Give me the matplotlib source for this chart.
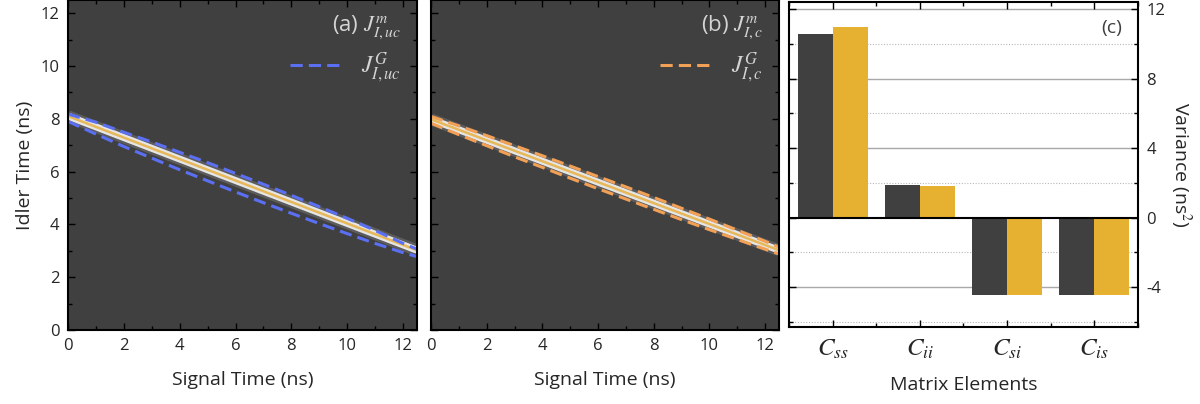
import numpy as np
import matplotlib
matplotlib.use('Agg')
import matplotlib.pyplot as plt
from matplotlib.lines import Line2D
from matplotlib.ticker import MultipleLocator

plt.rcParams['font.family'] = ['Open Sans', 'DejaVu Sans']
plt.rcParams['mathtext.fontset'] = 'stix'

# data
# measured streak (centre line) for panels a and b
streak_x = [0, 12.5]
streak_a = [8.10, 3.02]
streak_b = [7.98, 3.02]

# gaussian contour (dashed), two sides
gauss_x = [0, 1, 2, 3, 4, 5, 6, 7, 8, 9, 10, 11, 12, 12.5]
gauss_a_upper = [8.18, 7.87, 7.49, 7.12, 6.73, 6.34, 5.93, 5.52, 5.10, 4.67, 4.23, 3.77, 3.28, 3.06]
gauss_a_lower = [7.90, 7.42, 6.95, 6.51, 6.07, 5.65, 5.23, 4.82, 4.42, 4.03, 3.65, 3.28, 2.93, 2.78]
gauss_b_upper = [8.09, 7.73, 7.36, 6.98, 6.60, 6.21, 5.81, 5.42, 5.02, 4.61, 4.20, 3.78, 3.36, 3.14]
gauss_b_lower = [7.83, 7.40, 6.98, 6.56, 6.16, 5.75, 5.35, 4.96, 4.57, 4.18, 3.80, 3.43, 3.06, 2.88]

# panel c
categories = ['$C_{ss}$', '$C_{ii}$', '$C_{si}$', '$C_{is}$']
var_measured = [10.58, 1.88, -4.45, -4.45]
var_gauss = [11.0, 1.82, -4.47, -4.47]

dark = '#404040'
gold = '#E6B030'
blue = '#5B6FF2'
orange = '#F2A055'
txt = '#262626'

fig = plt.figure(figsize=(12, 4.04), dpi=100)
ax1 = fig.add_axes([0.0567, 0.1832, 0.2908, 0.8168])
ax2 = fig.add_axes([0.3592, 0.1832, 0.2900, 0.8168])
ax3 = fig.add_axes([0.6575, 0.1906, 0.2908, 0.8045])


def heat_panel(ax, sy, gu, gl, col, tag, sub):
    ax.set_facecolor(dark)
    ax.plot(streak_x, sy, color='#e0e0e0', lw=8.5, alpha=0.18, solid_capstyle='butt')
    ax.plot(streak_x, sy, color='#f6f6f6', lw=5, alpha=0.9, solid_capstyle='butt')
    ax.plot(streak_x, sy, color='#E8B040', lw=1.8, alpha=0.85, solid_capstyle='butt')
    ax.plot(gauss_x, gu, color=col, lw=2.2, dashes=(4, 2))
    ax.plot(gauss_x, gl, color=col, lw=2.2, dashes=(4, 2))
    ax.set_xlim(0, 12.5)
    ax.set_ylim(0, 12.5)
    ax.xaxis.set_major_locator(MultipleLocator(2))
    ax.xaxis.set_minor_locator(MultipleLocator(1))
    ax.yaxis.set_major_locator(MultipleLocator(2))
    ax.yaxis.set_minor_locator(MultipleLocator(1))
    ax.tick_params(which='both', direction='in', top=True, right=True, color='black',
                   labelsize=12, labelcolor=txt, pad=6)
    ax.tick_params(which='major', length=5, width=1)
    ax.tick_params(which='minor', length=3, width=1)
    for s in ax.spines.values():
        s.set_linewidth(1.5)
    ax.set_xlabel('Signal Time (ns)', fontsize=14, color=txt, labelpad=12)
    ax.text(0.955, 0.905, tag + ' $J^{m}_{' + sub + '}$', transform=ax.transAxes,
            ha='right', va='baseline', color='#d4d4d4', fontsize=16)
    h = Line2D([], [], color=col, lw=2.2, dashes=(4, 2))
    leg = ax.legend([h], ['$J^{G}_{' + sub + '}$'], loc='upper right',
                    bbox_to_anchor=(1.0, 0.895), frameon=False, fontsize=17,
                    handlelength=2.2, handletextpad=0.8, borderaxespad=0.3)
    for t in leg.get_texts():
        t.set_color('#d4d4d4')


heat_panel(ax1, streak_a, gauss_a_upper, gauss_a_lower, blue, '(a)', 'I,uc')
heat_panel(ax2, streak_b, gauss_b_upper, gauss_b_lower, orange, '(b)', 'I,c')
ax1.set_ylabel('Idler Time (ns)', fontsize=14, color=txt, labelpad=5)
ax2.tick_params(labelleft=False)

# panel c
pos = np.arange(len(categories)) + 0.5
w = 0.4
ax3.set_xlim(0, 4)
ax3.set_ylim(-6.3, 12.42)
for v in [12, 8, 4, -4]:
    ax3.axhline(v, color='#a8a8a8', lw=1, zorder=0)
for v in [10, 6, 2, -2, -6]:
    ax3.axhline(v, color='#b8b8b8', lw=0.8, ls=(0, (1, 1.5)), zorder=0)
ax3.bar(pos - w / 2, var_measured, width=w, color=dark, zorder=2)
ax3.bar(pos + w / 2, var_gauss, width=w, color=gold, zorder=2)
ax3.axhline(0, color='black', lw=1.5, zorder=3)
ax3.set_xticks(pos)
ax3.set_xticklabels(categories, fontsize=18)
ax3.xaxis.set_minor_locator(MultipleLocator(1))
ax3.yaxis.set_major_locator(MultipleLocator(4))
ax3.yaxis.set_minor_locator(MultipleLocator(2))
ax3.yaxis.set_major_formatter(matplotlib.ticker.FuncFormatter(lambda v, p: '%d' % v))
ax3.yaxis.tick_right()
ax3.yaxis.set_label_position('right')
ax3.tick_params(which='both', direction='in', top=True, left=True, right=True,
                color='black', labelcolor=txt)
ax3.tick_params(axis='y', labelsize=12, pad=6)
ax3.tick_params(axis='x', pad=7)
ax3.tick_params(which='major', length=5, width=1)
ax3.tick_params(which='minor', length=3, width=1)
for s in ax3.spines.values():
    s.set_linewidth(1.5)
ax3.set_xlabel('Matrix Elements', fontsize=14, color=txt, labelpad=10)
ax3.set_ylabel('Variance (ns$^2$)', fontsize=14, color=txt, rotation=270, labelpad=20)
ax3.text(0.955, 0.905, '(c)', transform=ax3.transAxes, ha='right', va='baseline',
         fontsize=14, color='#404040')

fig.savefig('out.png', dpi=100)
